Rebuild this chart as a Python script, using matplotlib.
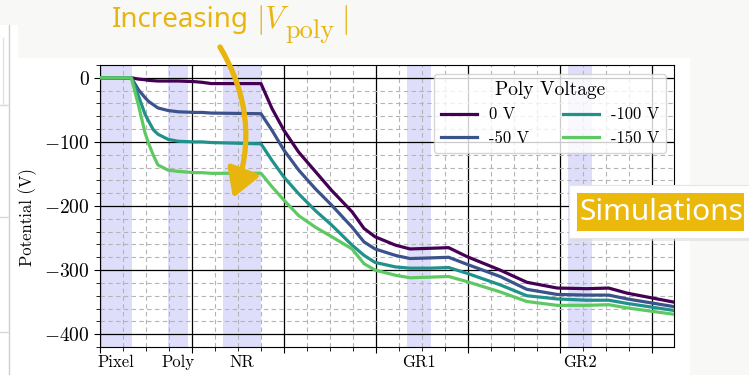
import numpy as np
import matplotlib.pyplot as plt
import matplotlib.transforms as mtransforms
from matplotlib.patches import Rectangle, FancyArrowPatch
from matplotlib.lines import Line2D
from matplotlib.ticker import MultipleLocator

plt.rcParams['font.family'] = 'cmr10'
plt.rcParams['mathtext.fontset'] = 'cm'
plt.rcParams['axes.formatter.use_mathtext'] = True

# position along the cut and potential for each poly bias
x = [0, 34, 42, 49, 53, 58, 63, 74, 85, 103, 111, 121, 175, 187, 200, 216, 234,
     252, 274, 287, 299, 321, 337, 359, 379, 399, 435, 464, 497, 529, 553, 573, 624]
v_0 = [0, 0, -2, -3, -4, -4.5, -5, -5, -5, -6, -7, -9, -9, -48, -82, -116, -146,
       -176, -209, -235, -248, -261, -267, -266, -265, -279, -300, -319, -328, -329, -328, -336, -350]
v_50 = [0, 0, -19, -31, -37, -42, -47, -51, -53, -54, -54, -55, -56, -82, -113, -144, -173,
        -199, -233, -256, -267, -277, -282, -281, -280, -291, -310, -330, -338, -339, -339, -345, -357]
v_100 = [0, 0, -29, -57, -68, -81, -88, -96, -99, -100, -100, -101, -103, -129, -155, -181, -207,
         -230, -261, -277, -288, -295, -297, -297, -296, -305, -323, -340, -345, -347, -347, -352, -363]
v_150 = [0, 0, -44, -86, -103, -121, -136, -144, -146, -148, -148, -149, -149, -170, -191, -215, -233,
         -248, -267, -290, -300, -308, -312, -311, -310, -318, -334, -349, -355, -355, -354, -359, -369]
series = [v_0, v_50, v_100, v_150]
labels = ['0 V', '-50 V', '-100 V', '-150 V']

regions = ['Pixel', 'Poly', 'NR', 'GR1', 'GR2']
region_lo = [0, 74, 134, 334, 509]
region_hi = [35, 96, 175, 360, 535]

W, H = 749, 375
gold = '#e8b40e'


def fx(px):
    return px / W


def fy(py):
    return 1 - py / H


fig = plt.figure(figsize=(W / 100, H / 100), dpi=100, facecolor='#f8f8f6')

# slide furniture behind the plot
fig.add_artist(Rectangle((fx(18), 0), fx(690) - fx(18), fy(58), transform=fig.transFigure,
                         facecolor='white', edgecolor='none', zorder=-2))
fig.add_artist(Rectangle((0, 0), fx(18), fy(25), transform=fig.transFigure,
                         facecolor='white', edgecolor='none', zorder=-2))
fig.add_artist(Line2D([fx(9), fx(9)], [0, fy(25)], transform=fig.transFigure,
                      color='#cfcfcf', lw=1, zorder=-1))
for yy in [105, 217, 332]:
    fig.add_artist(Line2D([0, fx(9)], [fy(yy), fy(yy)], transform=fig.transFigure,
                          color='#d8d8d8', lw=1, zorder=-1))
fig.add_artist(Line2D([fx(3), fx(3)], [fy(38), fy(105)], transform=fig.transFigure,
                      color='#e2e2e2', lw=1, zorder=-1))

ax = fig.add_axes([fx(100), fy(347), (674 - 100) / W, (347 - 65) / H])
ax.set_facecolor('white')

for lo, hi in zip(region_lo, region_hi):
    ax.axvspan(lo, hi, color='#dedefa', lw=0, zorder=0)

colors = plt.cm.viridis(np.linspace(0, 0.75, 4))
for v, lab, c in zip(series, labels, colors):
    ax.plot(x, v, color=c, lw=2.3, label=lab, zorder=3)

ax.set_xlim(0, 624)
ax.set_ylim(-420, 20)
ax.xaxis.set_major_locator(MultipleLocator(100))
ax.xaxis.set_minor_locator(MultipleLocator(25))
ax.yaxis.set_major_locator(MultipleLocator(100))
ax.yaxis.set_minor_locator(MultipleLocator(20))
ax.set_axisbelow(True)
ax.grid(which='major', color='black', lw=0.9)
ax.grid(which='minor', color='#b4b4b4', lw=0.8, ls=(0, (4, 3)))
ax.tick_params(which='both', direction='out', color='black')
ax.tick_params(which='major', length=4)
ax.tick_params(which='minor', length=3)
ax.tick_params(axis='x', which='both', labelbottom=False)
ax.tick_params(axis='y', labelsize=14)
ax.set_ylabel('Potential (V)', fontsize=12)
ax.yaxis.set_label_coords(-0.109, 0.46)
for sp in ax.spines.values():
    sp.set_color('black')

trans = mtransforms.blended_transform_factory(ax.transData, ax.transAxes)
for name, lo, hi in zip(regions, region_lo, region_hi):
    ax.text((lo + hi) / 2, -0.055, name, transform=trans, ha='center', va='center', fontsize=12)

leg = ax.legend(title='Poly Voltage', ncol=2, fontsize=12, title_fontsize=14,
                loc='upper right', bbox_to_anchor=(0.986, 0.968), borderaxespad=0,
                handlelength=2.2, handletextpad=0.7, columnspacing=2.0, framealpha=0.8)

# annotations on top of the plot: "Increasing |V_poly|" built from pieces
fig.text(fx(112), fy(27), 'Increasing', family='Noto Sans', fontsize=20,
         color=gold, va='baseline', zorder=6)
fig.text(fx(256), fy(28), r'$|V$', fontsize=22, color=gold, va='baseline', zorder=6)
fig.text(fx(285), fy(38), 'poly', family='cmr10', fontsize=19, color=gold,
         va='baseline', zorder=6)
fig.text(fx(341), fy(28), r'$|$', fontsize=22, color=gold, va='baseline', zorder=6)

fig.add_artist(FancyArrowPatch((fx(220), fy(47)), (fx(233), fy(198)), transform=fig.transFigure,
                               connectionstyle='arc3,rad=-0.24',
                               arrowstyle='-|>,head_length=0.85,head_width=0.5',
                               mutation_scale=20, lw=3.8, color=gold, shrinkA=0, shrinkB=0,
                               zorder=6))

fig.add_artist(Rectangle((fx(570), fy(241)), fx(760) - fx(570), (241 - 187) / H,
                         transform=fig.transFigure, facecolor='#dcdcdc', edgecolor='none',
                         alpha=0.6, zorder=5))
fig.add_artist(Rectangle((fx(569), fy(238)), fx(760) - fx(569), (238 - 185) / H,
                         transform=fig.transFigure, facecolor='white', edgecolor='#e6e6e6',
                         lw=0.8, zorder=5))
fig.add_artist(Rectangle((fx(577), fy(231)), fx(744) - fx(577), (231 - 193) / H,
                         transform=fig.transFigure, facecolor='#ebb90c', edgecolor='none',
                         zorder=6))
fig.text(fx(661), fy(212), 'Simulations', family='Noto Sans', fontsize=21.5, color='white',
         ha='center', va='center', zorder=7)

fig.savefig('out.png', dpi=100, facecolor=fig.get_facecolor())
